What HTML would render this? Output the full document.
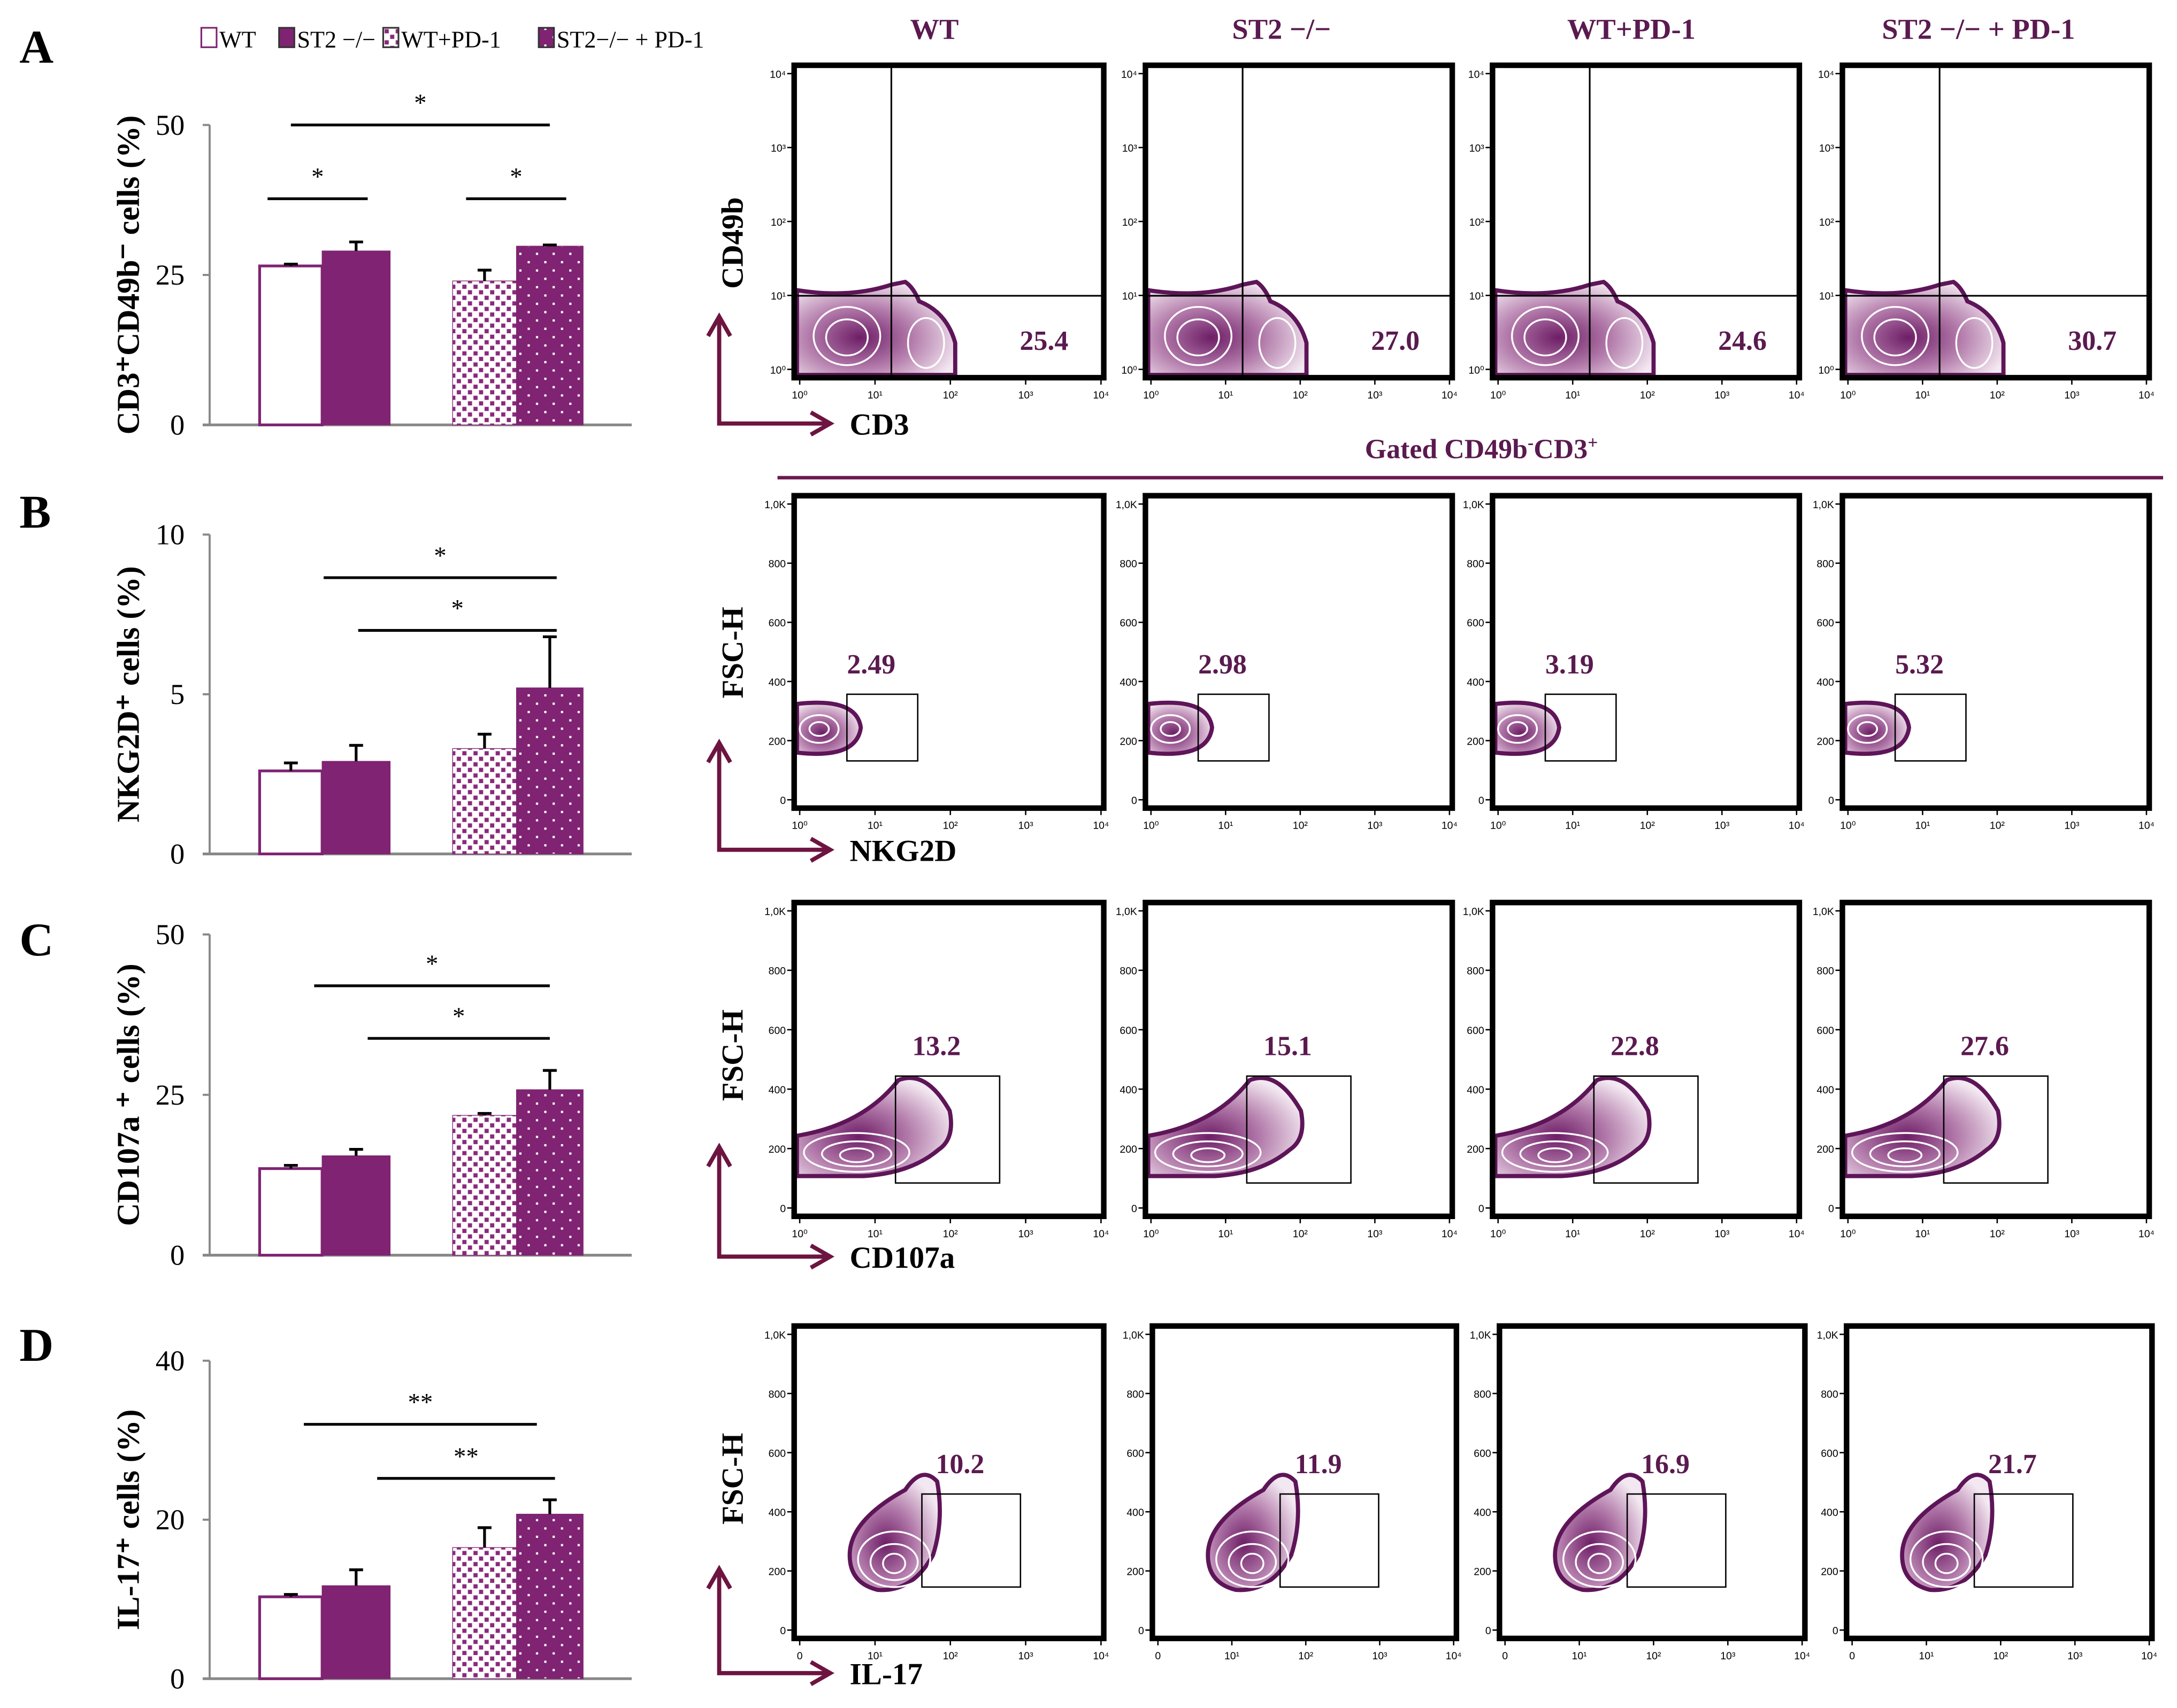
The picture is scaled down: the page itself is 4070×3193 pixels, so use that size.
<!DOCTYPE html>
<html><head><meta charset="utf-8"><style>
html,body{margin:0;padding:0;background:#fff}
svg{display:block}
.ser{font-family:"Liberation Serif",serif}
.san{font-family:"Liberation Sans",sans-serif}
</style></head><body>
<svg id="fig" xmlns="http://www.w3.org/2000/svg" width="4070" height="3193" viewBox="0 0 1568 1230.1">
<defs>
<pattern id="pSq" width="8" height="8" patternUnits="userSpaceOnUse"><rect width="8" height="8" fill="#fff"/><rect x="1" y="1" width="3" height="3" fill="#8a2a7c"/><rect x="5" y="5" width="3" height="3" fill="#8a2a7c"/></pattern>
<pattern id="pDot" width="12" height="12" patternUnits="userSpaceOnUse"><rect width="12" height="12" fill="#7f2372"/><rect x="2" y="2" width="1.6" height="1.6" fill="#fff"/><rect x="8" y="8" width="1.6" height="1.6" fill="#fff"/></pattern>
<radialGradient id="gBlob" cx="40%" cy="60%" r="65%"><stop offset="0" stop-color="#6e1e66"/><stop offset="0.5" stop-color="#b27aaa"/><stop offset="1" stop-color="#f3e8f1"/></radialGradient>
</defs>
<g id="left" class="ser"></g>
<g id="right"></g>
</svg>
<script>
const NS="http://www.w3.org/2000/svg";
// ---- bar chart data ----
const groups=["WT","ST2 −/−","WT+PD-1","ST2−/− + PD-1"];
const panelLetters=["A","B","C","D"];
const yMaxes=[50,10,50,40];
const yTicksA=[0,25,50];
const yTicksB=[0,5,10];
const yTicksC=[0,25,50];
const yTicksD=[0,20,40];
const valsA=[26.5,29,24,29.8];
const valsB=[2.6,2.9,3.3,5.2];
const valsC=[13.5,15.5,21.8,25.8];
const valsD=[10.3,11.7,16.5,20.7];
const errA=[0.3,1.5,1.8,0.2];
const errB=[0.25,0.5,0.45,1.6];
const errC=[0.5,1.0,0.3,3.0];
const errD=[0.3,2.0,2.5,1.8];
// [from bar index, to bar index, y value, label]
const sigA=[[0,3,50,"*"],[-0.27,0.89,37.7,"*"],[2.03,3.19,37.7,"*"]];
const sigB=[[0.38,3.08,8.65,"*"],[0.78,3.08,7.0,"*"]];
const sigC=[[0.27,3.0,42,"*"],[0.89,3.0,33.8,"*"]];
const sigD=[[0.15,2.85,32,"**"],[1.0,3.06,25.2,"**"]];
const yLabels=["CD3⁺CD49b⁻ cells (%)","NKG2D⁺ cells (%)","CD107a ⁺ cells (%)","IL-17⁺ cells (%)"];
// flow gate percentages
const gateA=["25.4","27.0","24.6","30.7"];
const gateB=["2.49","2.98","3.19","5.32"];
const gateC=["13.2","15.1","22.8","27.6"];
const gateD=["10.2","11.9","16.9","21.7"];

function el(tag,attrs,parent,text){const e=document.createElementNS(NS,tag);for(const k in attrs)e.setAttribute(k,attrs[k]);if(text!==undefined)e.textContent=text;parent.appendChild(e);return e;}

const L=document.getElementById('left');
const panelsY=[[90,306],[385,615],[673,904],[980,1209]];
const barX=[[187,232],[232,281],[326,372],[372,420]];
const fills=["#fff","#7f2372","url(#pSq)","url(#pDot)"];
const allVals=[valsA,valsB,valsC,valsD],allErr=[errA,errB,errC,errD],allSig=[sigA,sigB,sigC,sigD],allTicks=[yTicksA,yTicksB,yTicksC,yTicksD];
const letterY=[45,380,688,980];
const c0=(barX[0][0]+barX[0][1])/2,c3=(barX[3][0]+barX[3][1])/2;
const cxOf=i=>c0+i*(c3-c0)/3;
for(let p=0;p<4;p++){
  const [yt,yb]=panelsY[p];const ymax=yMaxes[p];
  const ys=v=>yb-(v/ymax)*(yb-yt);
  const g=el('g',{},L);
  
  
  const lt=el('text',{x:14,y:letterY[p],'font-size':34,'font-weight':'bold'},g,panelLetters[p]);
  
  
  const yl=el('text',{x:0,y:0,'font-size':23,'font-weight':'bold','text-anchor':'middle',transform:`translate(100,${(yt+yb)/2}) rotate(-90)`},g,yLabels[p]);
  
  
  el('line',{x1:151,y1:yt,x2:151,y2:yb,stroke:'#888','stroke-width':1.5},g);
  el('line',{x1:146,y1:yb,x2:455,y2:yb,stroke:'#888','stroke-width':2},g);
  allTicks[p].forEach(t=>{
    el('line',{x1:146,y1:ys(t),x2:151,y2:ys(t),stroke:'#888','stroke-width':1.5},g);
    const tx=el('text',{x:133,y:ys(t)+7,'font-size':21,'text-anchor':'end'},g,String(t));
    
    
  });
  allVals[p].forEach((v,i)=>{
    const [x0,x1]=barX[i];const e=allErr[p][i];
    const r=el('rect',{x:x0,y:ys(v),width:x1-x0,height:yb-ys(v),fill:fills[i],stroke:'#7f2372','stroke-width':i==0?2:0.5},g);
    
    
    const cx=(x0+x1)/2;
    el('line',{x1:cx,y1:ys(v),x2:cx,y2:ys(v+e),stroke:'#000','stroke-width':2},g);
    el('line',{x1:cx-5,y1:ys(v+e),x2:cx+5,y2:ys(v+e),stroke:'#000','stroke-width':2},g);
  });
  allSig[p].forEach(s=>{
    const x1=cxOf(s[0]),x2=cxOf(s[1]),y=ys(s[2]);
    const ln=el('line',{x1:x1,y1:y,x2:x2,y2:y,stroke:'#000','stroke-width':2},g);
    
    
    el('text',{x:(x1+x2)/2,y:y-10,'font-size':18,'text-anchor':'middle'},g,s[3]);
  });
}
// legend
(function(){
  const g=el('g',{},L);
  
  
  const xs=[145,201,276,388];
  xs.forEach((x,i)=>{
    el('rect',{x:x,y:20,width:11,height:14,fill:fills[i],stroke:i==0?'#7f2372':'#333','stroke-width':1.2},g);
    const t=el('text',{x:x+13,y:34,'font-size':17},g,groups[i]);
    
    
  });
})();

// ---- flow plots ----
const R=document.getElementById('right');
const colTitles=["WT","ST2 −/−","WT+PD-1","ST2 −/− + PD-1"];
const colCx=[673,923,1175,1425];
colTitles.forEach((t,i)=>{const e=el('text',{x:colCx[i],y:28,'font-size':21,'font-weight':'bold','text-anchor':'middle',fill:'#5a1a4f',class:'ser'},R,t);
  });
const gt=el('text',{x:1067,y:330,'font-size':20,'font-weight':'bold','text-anchor':'middle',fill:'#5a1a4f',class:'ser'},R,'');

gt.innerHTML='Gated CD49b<tspan dy="-7" font-size="13">-</tspan><tspan dy="7">CD3</tspan><tspan dy="-7" font-size="13">+</tspan>';
el('line',{x1:560,y1:344,x2:1558,y2:344,stroke:'#6d1a4f','stroke-width':2.5},R);

const rowsY=[[47,272],[357,582],[650,876],[955,1180]];
const colsX=[[572,795],[825,1046],[1075,1296],[1327,1548]];
const colsXD=[[572,795],[830,1049],[1080,1300],[1330,1550]];
const gates=[gateA,gateB,gateC,gateD];
const axisNames=[["CD49b","CD3"],["FSC-H","NKG2D"],["FSC-H","CD107a"],["FSC-H","IL-17"]];

function blob(g,d,rings){
  el('path',{d:d,fill:'url(#gBlob)',stroke:'#5e1558','stroke-width':3},g);
  rings.forEach(r=>el('ellipse',{cx:r[0],cy:r[1],rx:r[2],ry:r[3],fill:'none',stroke:'#fff','stroke-width':1.3},g));
}
for(let r=0;r<4;r++){
  const [y0,y1]=rowsY[r];
  for(let c=0;c<4;c++){
    const [x0,x1]=(r==3?colsXD:colsX)[c];
    const g=el('g',{},R);
    
    
    const w=x1-x0,h=y1-y0;
    if(r==0){
      blob(g,`M${x0+2},${y1-2} L${x0+2},${y0+162} Q${x0+40},${y0+168} ${x0+70},${y0+158} L${x0+80},${y0+156} Q${x0+86},${y0+160} ${x0+90},${y0+170} Q${x0+110},${y0+178} ${x0+116},${y0+200} L${x0+116},${y1-2} Z`,
        [[x0+38,y0+195,24,21],[x0+38,y0+196,15,13],[x0+95,y0+200,13,18]]);
    } else if(r==1){
      blob(g,`M${x0+2},${y0+150} Q${x0+45},${y0+145} ${x0+48},${y0+167} Q${x0+45},${y0+190} ${x0+2},${y0+185} Z`,
        [[x0+18,y0+168,14,10],[x0+18,y0+168,7,5]]);
    } else if(r==2){
      blob(g,`M${x0+2},${y0+168} Q${x0+50},${y0+160} ${x0+75},${y0+128} Q${x0+95},${y0+120} ${x0+112},${y0+150} Q${x0+116},${y0+170} ${x0+104},${y0+178} Q${x0+84},${y0+195} ${x0+50},${y0+197} L${x0+2},${y0+197} Z`,
        [[x0+45,y0+180,38,14],[x0+45,y0+181,25,9],[x0+45,y0+182,12,5]]);
    } else {
      blob(g,`M${x0+40},${y0+165} Q${x0+40},${y0+140} ${x0+80},${y0+118} Q${x0+92},${y0+100} ${x0+103},${y0+112} Q${x0+108},${y0+140} ${x0+100},${y0+165} Q${x0+85},${y0+192} ${x0+60},${y0+190} Q${x0+40},${y0+185} ${x0+40},${y0+165} Z`,
        [[x0+72,y0+168,26,20],[x0+72,y0+170,17,13],[x0+72,y0+171,8,7]]);
    }
    el('rect',{x:x0,y:y0,width:w,height:h,fill:'none',stroke:'#000','stroke-width':4},g);
    if(r==0){
      el('line',{x1:x0+70,y1:y0,x2:x0+70,y2:y1,stroke:'#000','stroke-width':1.2},g);
      el('line',{x1:x0,y1:y0+166,x2:x1,y2:y0+166,stroke:'#000','stroke-width':1.2},g);
      const t=el('text',{x:x0+180,y:y0+205,'font-size':20,'font-weight':'bold','text-anchor':'middle',fill:'#5a1a4f',class:'ser'},g,gates[r][c]);
      
    } else {
      const gb=[[38,143,51,48],[73,125,75,77],[92,121,71,67]][r-1];
      el('rect',{x:x0+gb[0],y:y0+gb[1],width:gb[2],height:gb[3],fill:'none',stroke:'#000','stroke-width':1},g);
      const t=el('text',{x:x0+gb[0]+gb[2]/2-8,y:y0+gb[1]-15,'font-size':20,'font-weight':'bold','text-anchor':'middle',fill:'#5a1a4f',class:'ser'},g,gates[r][c]);
      
    }
    const yl=r==0?["10⁰","10¹","10²","10³","10⁴"]:["0","200","400","600","800","1,0K"];
    yl.forEach((s,i)=>{const yy=y1-6-i*(h-12)/(yl.length-1);
      el('line',{x1:x0-5,y1:yy,x2:x0,y2:yy,stroke:'#000','stroke-width':1},g);
      el('text',{x:x0-6,y:yy+3,'font-size':7.5,'text-anchor':'end',class:'san'},g,s);});
    const xl=r==3?["0","10¹","10²","10³","10⁴"]:["10⁰","10¹","10²","10³","10⁴"];
    xl.forEach((s,i)=>{const xx=x0+4+i*(w-6)/4;
      el('line',{x1:xx,y1:y1,x2:xx,y2:y1+5,stroke:'#000','stroke-width':1},g);
      el('text',{x:xx,y:y1+15,'font-size':7.5,'text-anchor':'middle',class:'san'},g,s);});
  }
  const ay=[305,612,905,1205][r],atop=[228,535,826,1130][r];
  const ag=el('g',{},R);
  
  
  el('path',{d:`M518,${atop} L518,${ay} L598,${ay} M510,${atop+14} L518,${atop} L526,${atop+14} M584,${ay-8} L598,${ay} L584,${ay+8}`,fill:'none',stroke:'#6d1440','stroke-width':3},ag);
  el('text',{x:0,y:0,'font-size':22,'font-weight':'bold','text-anchor':'middle',class:'ser',transform:`translate(535,${[175,470,760,1065][r]}) rotate(-90)`},ag,axisNames[r][0]);
  el('text',{x:612,y:ay+8,'font-size':22,'font-weight':'bold',class:'ser'},ag,axisNames[r][1]);
}
</script>
</body></html>
